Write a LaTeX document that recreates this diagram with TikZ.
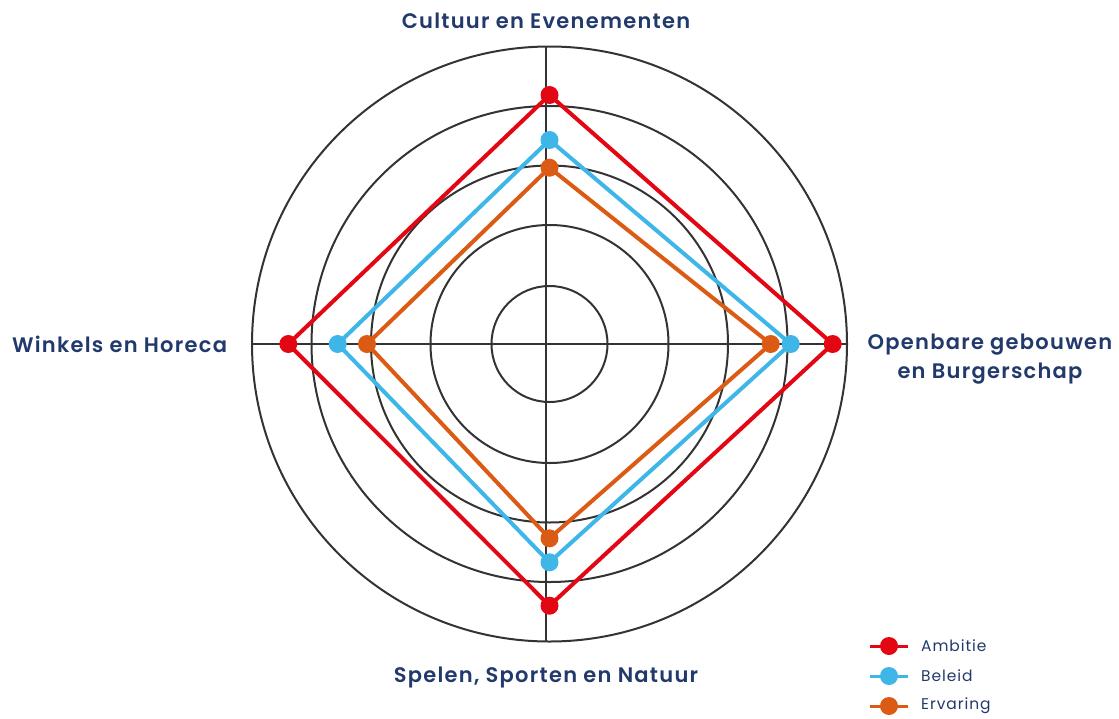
\documentclass[tikz,border=0pt]{standalone}
\usepackage{fontspec}
\setmainfont{Poppins}[LetterSpace=6]
\newfontfamily\kopfont{Poppins SemiBold}[LetterSpace=6]
\usetikzlibrary{calc}
\definecolor{ambitie}{HTML}{E30613}
\definecolor{beleid}{HTML}{3FB6E8}
\definecolor{ervaring}{HTML}{DC5B14}
\definecolor{kopkleur}{HTML}{22396B}
\definecolor{raster}{HTML}{333333}
\tikzset{
  ring/.style={line width=2pt, color=raster},
  as/.style={line width=2pt, color=raster},
  reeks/.style={line width=4pt, line join=miter},
  punt/.style={circle, inner sep=0pt, minimum size=18pt},
  kopje/.style={font=\kopfont\fontsize{21}{29}\selectfont, text=kopkleur, align=center},
  legtekst/.style={font=\fontsize{15.5}{17}\selectfont, text=kopkleur, anchor=west, inner sep=0pt},
}

\begin{document}
\begin{tikzpicture}[x=1pt, y=-1pt]
			\useasboundingbox (0,0) rectangle (1119,718);
			%%%%% START %%%%%
			
			\coordinate (m) at (549.5, 344);
			\draw[ring] (m) circle (58);
			\draw[ring] (m) circle (119);
			\draw[ring] (m) circle (178.5);
			\draw[ring] (m) circle (238);
			\draw[ring] (m) circle (297.5);
			
			\draw[as] (545.5, 46.5) -- (545.5, 641.5);
			\draw[as] (252, 344) -- (847, 344);
			
			% ambitie
			\coordinate (a1) at (549.5, 95);
			\coordinate (a2) at (832.7, 344);
			\coordinate (a3) at (549.5, 605.7);
			\coordinate (a4) at (288.3, 344);
			\draw[reeks, ambitie] (a1) -- (a2) -- (a3) -- (a4) -- cycle;
			
			% beleid
			\coordinate (b1) at (549.5, 140);
			\coordinate (b2) at (790.7, 344);
			\coordinate (b3) at (549.5, 562.3);
			\coordinate (b4) at (337.7, 344);
			\draw[reeks, beleid] (b1) -- (b2) -- (b3) -- (b4) -- cycle;
			
			% ervaring
			\coordinate (e1) at (549.5, 167.7);
			\coordinate (e2) at (770.7, 344);
			\coordinate (e3) at (549.5, 538.3);
			\coordinate (e4) at (367, 344);
			\draw[reeks, ervaring] (e1) -- (e2) -- (e3) -- (e4) -- cycle;
			
			\node[punt, fill=ambitie] (pa1) at (a1) {};
			\node[punt, fill=ambitie] (pa2) at (a2) {};
			\node[punt, fill=ambitie] (pa3) at (a3) {};
			\node[punt, fill=ambitie] (pa4) at (a4) {};
			\node[punt, fill=beleid] (pb1) at (b1) {};
			\node[punt, fill=beleid] (pb2) at (b2) {};
			\node[punt, fill=beleid] (pb3) at (b3) {};
			\node[punt, fill=beleid] (pb4) at (b4) {};
			\node[punt, fill=ervaring] (pe1) at (e1) {};
			\node[punt, fill=ervaring] (pe2) at (e2) {};
			\node[punt, fill=ervaring] (pe3) at (e3) {};
			\node[punt, fill=ervaring] (pe4) at (e4) {};
			
			\node[kopje] (cultuur) at (546, 21) {Cultuur en Evenementen};
			\node[kopje] (openbaar) at (990, 359) {Openbare gebouwen\\en Burgerschap};
			\node[kopje] (winkels) at (119.5, 344) {Winkels en Horeca};
			\node[kopje] (spelen) at (546, 677) {Spelen, Sporten en Natuur};
			
			% legenda
			\coordinate (la0) at (870, 646);
			\coordinate (la1) at (908, 646);
			\draw[ambitie, line width=3pt] (la0) -- (la1);
			\node[punt, fill=ambitie] (lpa) at (889, 646) {};
			\node[legtekst] (lta) at (921, 646) {Ambitie};
			
			\coordinate (lb0) at (870, 676);
			\coordinate (lb1) at (908, 676);
			\draw[beleid, line width=3pt] (lb0) -- (lb1);
			\node[punt, fill=beleid] (lpb) at (889, 676) {};
			\node[legtekst] (ltb) at (921, 676) {Beleid};
			
			\coordinate (le0) at (870, 706);
			\coordinate (le1) at (908, 706);
			\draw[ervaring, line width=3pt] (le0) -- (le1);
			\node[punt, fill=ervaring] (lpe) at (889, 706) {};
			\node[legtekst] (lte) at (921, 706) {Ervaring};
			
			%%%%% END %%%%%
\end{tikzpicture}
\end{document}
